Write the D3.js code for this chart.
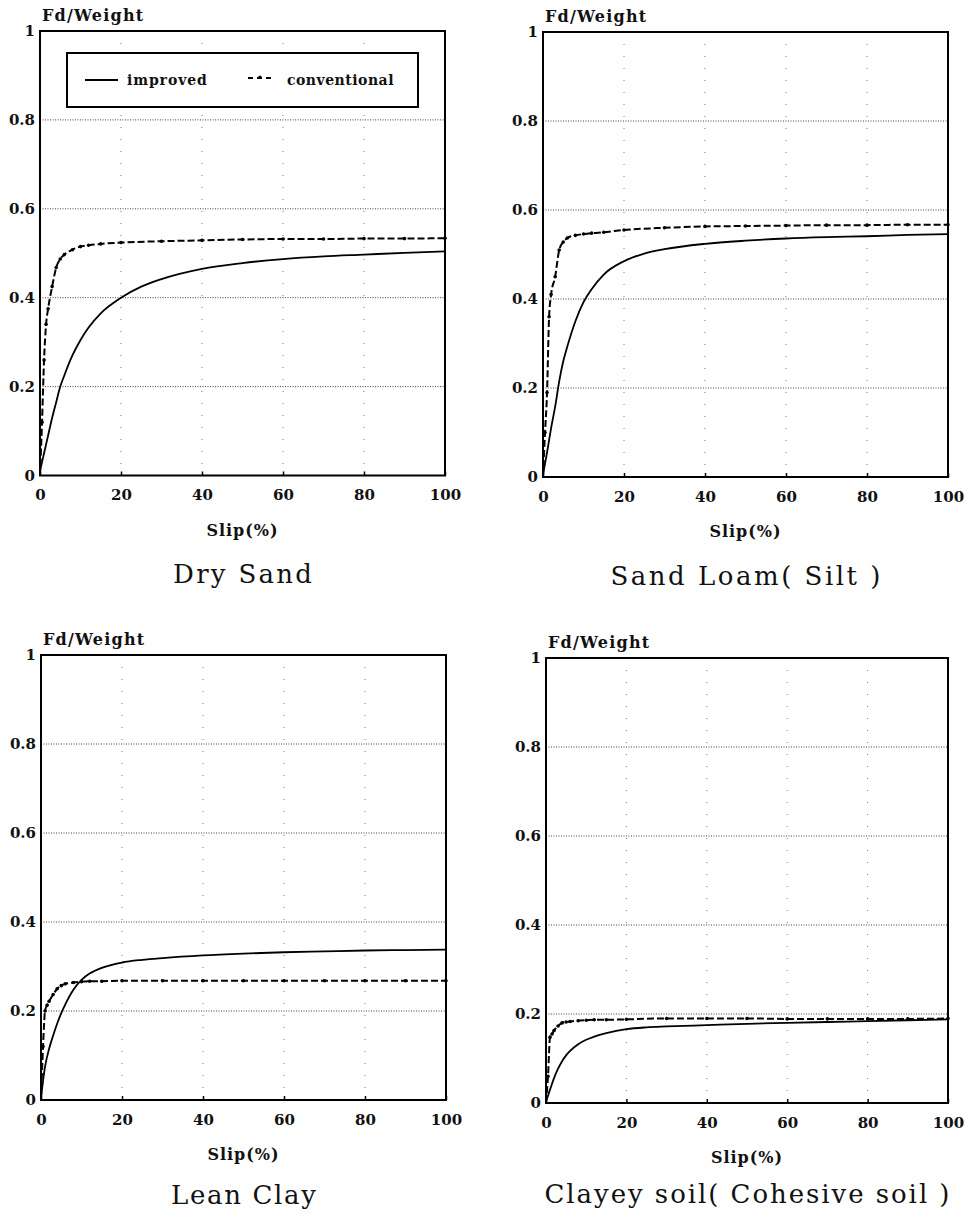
<!DOCTYPE html>
<html>
<head>
<meta charset="utf-8">
<script src="https://cdn.jsdelivr.net/npm/d3@7"></script>
<style>
  html, body { margin: 0; padding: 0; background: #fff; }
  svg { display: block; }
  .tick text { font-family: "DejaVu Serif", serif; font-weight: bold; font-size: 15px; fill: #111; }
</style>
</head>
<body>
<svg id="chart" width="970" height="1216"></svg>
<script>
// Tick values and labels shared by all four panels
const xTicks = [0, 20, 40, 60, 80, 100];
const yTicks = [0, 0.2, 0.4, 0.6, 0.8, 1];
const yTickLabels = ["0", "0.2", "0.4", "0.6", "0.8", "1"];
const gridY = [0.2, 0.4, 0.6, 0.8];
const gridX = [20, 40, 60, 80];

const yAxisTitle = "Fd/Weight";
const xAxisTitle = "Slip(%)";
const soilTitles = ["Dry Sand", "Sand Loam( Silt )", "Lean Clay", "Clayey soil( Cohesive soil )"];
const seriesNames = ["improved", "conventional"];

// Slip samples (%) for each model
const slipImproved = [0, 1, 2, 3, 4, 5, 6, 8, 10, 12, 15, 20, 25, 30, 40, 50, 60, 70, 80, 90, 100];
const slipConventional = [0, 0.5, 1, 1.5, 2, 3, 4, 5, 6, 8, 10, 12, 15, 20, 30, 40, 50, 60, 70, 80, 90, 100];

// Drawbar pull / weight, improved model
const drySandImproved = [0.01, 0.05, 0.09, 0.13, 0.165, 0.2, 0.225, 0.27, 0.305, 0.333, 0.365, 0.40, 0.425, 0.442, 0.465, 0.478, 0.487, 0.493, 0.497, 0.501, 0.504];
const sandLoamImproved = [0.005, 0.055, 0.11, 0.158, 0.215, 0.26, 0.293, 0.35, 0.393, 0.422, 0.455, 0.485, 0.502, 0.512, 0.524, 0.531, 0.536, 0.539, 0.541, 0.544, 0.546];
const leanClayImproved = [0.005, 0.075, 0.115, 0.145, 0.172, 0.195, 0.215, 0.248, 0.27, 0.284, 0.297, 0.309, 0.315, 0.319, 0.325, 0.329, 0.332, 0.334, 0.336, 0.337, 0.338];
const clayeySoilImproved = [0.003, 0.03, 0.056, 0.077, 0.094, 0.107, 0.117, 0.132, 0.142, 0.149, 0.157, 0.166, 0.17, 0.172, 0.175, 0.178, 0.18, 0.182, 0.184, 0.186, 0.188];

// Drawbar pull / weight, conventional model
const drySandConventional = [0, 0.12, 0.26, 0.34, 0.375, 0.425, 0.468, 0.487, 0.497, 0.508, 0.515, 0.518, 0.521, 0.524, 0.527, 0.529, 0.531, 0.532, 0.532, 0.533, 0.533, 0.534];
const sandLoamConventional = [0, 0.1, 0.19, 0.36, 0.41, 0.45, 0.51, 0.528, 0.537, 0.543, 0.546, 0.548, 0.55, 0.555, 0.56, 0.563, 0.564, 0.565, 0.566, 0.566, 0.567, 0.567];
const leanClayConventional = [0, 0.12, 0.2, 0.213, 0.222, 0.237, 0.25, 0.257, 0.261, 0.264, 0.266, 0.267, 0.267, 0.268, 0.268, 0.268, 0.268, 0.268, 0.268, 0.268, 0.268, 0.268];
const clayeySoilConventional = [0, 0.06, 0.148, 0.155, 0.163, 0.173, 0.18, 0.182, 0.183, 0.185, 0.186, 0.187, 0.187, 0.188, 0.19, 0.19, 0.19, 0.189, 0.189, 0.189, 0.189, 0.19];

const improvedSets = [drySandImproved, sandLoamImproved, leanClayImproved, clayeySoilImproved];
const conventionalSets = [drySandConventional, sandLoamConventional, leanClayConventional, clayeySoilConventional];

// Panel frames on the page
const frames = [
  { x0: 40,  x1: 445, y0: 31,  y1: 475.5, titleY: 583,  titleW: 139 },
  { x0: 543, x1: 948, y0: 32,  y1: 477,   titleY: 585,  titleW: 270 },
  { x0: 41,  x1: 446, y0: 655, y1: 1100,  titleY: 1204, titleW: 145 },
  { x0: 546, x1: 948, y0: 658, y1: 1103,  titleY: 1203, titleW: 405 }
];

const svg = d3.select("#chart");
const serif = "DejaVu Serif, serif";

frames.forEach((f, i) => {
  const x = d3.scaleLinear().domain([0, 100]).range([f.x0, f.x1]);
  const y = d3.scaleLinear().domain([0, 1]).range([f.y1, f.y0]);
  const g = svg.append("g");

  // horizontal dotted grid
  g.selectAll("line.gy").data(gridY).join("line")
    .attr("x1", f.x0).attr("x2", f.x1)
    .attr("y1", d => y(d)).attr("y2", d => y(d))
    .attr("stroke", "#444").attr("stroke-width", 1)
    .attr("stroke-dasharray", "1,1.5");

  // faint vertical grid
  g.selectAll("line.gx").data(gridX).join("line")
    .attr("x1", d => x(d)).attr("x2", d => x(d))
    .attr("y1", f.y0).attr("y2", f.y1)
    .attr("stroke", "#777").attr("stroke-width", 1)
    .attr("stroke-dasharray", "1,11");

  // x axis with inward ticks
  const xAxis = g.append("g")
    .attr("transform", `translate(0,${f.y1})`)
    .call(d3.axisBottom(x).tickValues(xTicks).tickSize(-4).tickPadding(14).tickFormat(d3.format("d")));
  xAxis.select(".domain").remove();
  xAxis.selectAll(".tick line").attr("stroke", "#000").attr("stroke-width", 1.5);

  // y axis labels
  const yAxis = g.append("g")
    .attr("transform", `translate(${f.x0},0)`)
    .call(d3.axisLeft(y).tickValues(yTicks).tickSize(0).tickPadding(5)
      .tickFormat((d, k) => yTickLabels[k]));
  yAxis.select(".domain").remove();

  // data lines
  const imp = slipImproved.map((s, k) => [s, improvedSets[i][k]]);
  const conv = slipConventional.map((s, k) => [s, conventionalSets[i][k]]);
  const line = d3.line().x(d => x(d[0])).y(d => y(d[1])).curve(d3.curveMonotoneX);

  g.append("path").datum(imp)
    .attr("d", line).attr("fill", "none")
    .attr("stroke", "#000").attr("stroke-width", 1.8);

  g.append("path").datum(conv)
    .attr("d", line).attr("fill", "none")
    .attr("stroke", "#000").attr("stroke-width", 2)
    .attr("stroke-dasharray", "7,3");

  g.selectAll("circle.cv").data(conv.filter(d => d[0] > 0)).join("circle")
    .attr("cx", d => x(d[0])).attr("cy", d => y(d[1]))
    .attr("r", 1.8).attr("fill", "#000");

  // frame
  g.append("rect")
    .attr("x", f.x0).attr("y", f.y0)
    .attr("width", f.x1 - f.x0).attr("height", f.y1 - f.y0)
    .attr("fill", "none").attr("stroke", "#000").attr("stroke-width", 2);

  // axis titles
  g.append("text")
    .attr("x", f.x0 + 2).attr("y", f.y0 - 10)
    .attr("font-family", serif).attr("font-weight", "bold")
    .attr("font-size", 16).attr("letter-spacing", 1.2).attr("fill", "#111")
    .text(yAxisTitle);

  g.append("text")
    .attr("x", (f.x0 + f.x1) / 2).attr("y", f.y1 + 60)
    .attr("text-anchor", "middle")
    .attr("font-family", serif).attr("font-weight", "bold")
    .attr("font-size", 16).attr("letter-spacing", 1).attr("fill", "#111")
    .text(xAxisTitle);

  // soil name
  g.append("text")
    .attr("x", (f.x0 + f.x1) / 2 - f.titleW / 2).attr("y", f.titleY)
    .attr("textLength", f.titleW).attr("lengthAdjust", "spacing")
    .attr("font-family", serif)
    .attr("font-size", 26).attr("fill", "#111")
    .text(soilTitles[i]);

  // legend in the first panel
  if (i === 0) {
    const lg = g.append("g");
    lg.append("rect")
      .attr("x", f.x0 + 27).attr("y", f.y0 + 22)
      .attr("width", 351).attr("height", 54)
      .attr("fill", "#fff").attr("stroke", "#000").attr("stroke-width", 2);
    const ly = f.y0 + 49;
    lg.append("line")
      .attr("x1", f.x0 + 45).attr("x2", f.x0 + 78)
      .attr("y1", ly).attr("y2", ly)
      .attr("stroke", "#000").attr("stroke-width", 1.8);
    lg.append("text")
      .attr("x", f.x0 + 87).attr("y", ly + 5)
      .attr("font-family", serif).attr("font-weight", "bold")
      .attr("font-size", 14).attr("letter-spacing", 0.9).attr("fill", "#111")
      .text(seriesNames[0]);
    lg.append("line")
      .attr("x1", f.x0 + 208).attr("x2", f.x0 + 233)
      .attr("y1", ly - 2).attr("y2", ly - 2)
      .attr("stroke", "#000").attr("stroke-width", 2)
      .attr("stroke-dasharray", "5,4");
    lg.append("circle")
      .attr("cx", f.x0 + 220).attr("cy", ly - 3).attr("r", 1.6).attr("fill", "#000");
    lg.append("text")
      .attr("x", f.x0 + 247).attr("y", ly + 5)
      .attr("font-family", serif).attr("font-weight", "bold")
      .attr("font-size", 14).attr("letter-spacing", 0.5).attr("fill", "#111")
      .text(seriesNames[1]);
  }
});
</script>
</body>
</html>
